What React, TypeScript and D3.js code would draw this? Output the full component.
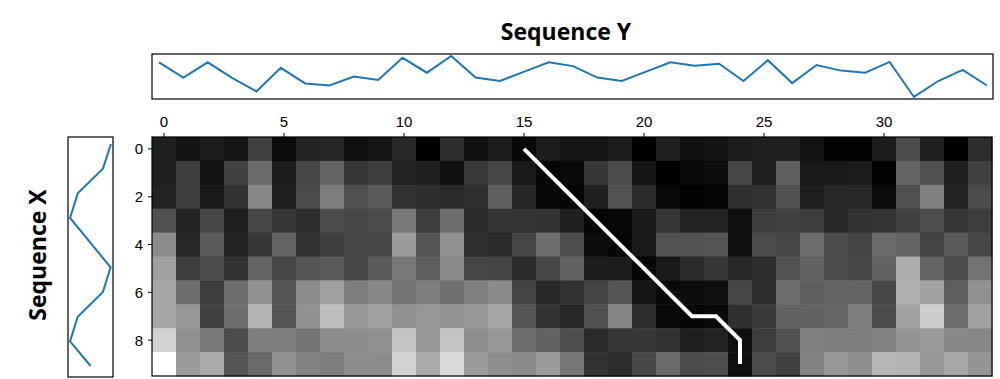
import React from "react";
import * as d3 from "d3";

// Sequence Y (top), 35 values
const seqY = [1.05, 0.61, 1.05, 0.6, 0.21, 0.89, 0.44, 0.38, 0.64, 0.54, 1.18, 0.75, 1.23, 0.61, 0.51, 0.78, 1.05, 0.94, 0.61, 0.51, 0.78, 1.05, 0.95, 1.01, 0.51, 1.11, 0.45, 0.97, 0.81, 0.75, 1.06, 0.05, 0.51, 0.83, 0.38];
// Sequence X (left), 10 values
const seqX = [1.17, 0.94, 0.22, 0.0, 0.58, 1.16, 0.94, 0.22, 0.0, 0.59];

// Cost matrix, one array per column of Y (10 rows of X each)
const costCols: number[][] = [
  [30, 30, 35, 80, 140, 160, 165, 165, 210, 255],
  [20, 60, 60, 35, 40, 60, 110, 150, 145, 155],
  [28, 18, 25, 70, 90, 75, 60, 65, 120, 170],
  [22, 65, 50, 30, 35, 50, 110, 110, 75, 85],
  [65, 105, 135, 70, 55, 100, 145, 180, 125, 105],
  [12, 28, 30, 55, 100, 70, 85, 85, 125, 145],
  [35, 72, 75, 45, 50, 85, 140, 145, 115, 130],
  [38, 100, 125, 75, 60, 90, 160, 190, 140, 125],
  [15, 55, 80, 70, 70, 70, 125, 150, 140, 140],
  [22, 60, 90, 75, 70, 90, 135, 160, 145, 140],
  [40, 35, 50, 120, 155, 120, 115, 145, 195, 210],
  [0, 30, 45, 60, 85, 95, 125, 150, 150, 170],
  [45, 17, 42, 110, 145, 137, 112, 147, 195, 218],
  [16, 57, 47, 42, 47, 70, 128, 152, 142, 155],
  [28, 70, 95, 52, 42, 68, 138, 165, 152, 142],
  [8, 25, 38, 52, 70, 42, 68, 85, 110, 138],
  [28, 5, 8, 50, 110, 72, 40, 50, 98, 155],
  [22, 10, 5, 32, 78, 98, 50, 40, 78, 118],
  [22, 55, 32, 4, 12, 28, 68, 80, 42, 50],
  [28, 75, 82, 8, 5, 28, 85, 132, 55, 45],
  [0, 22, 42, 25, 25, 5, 22, 45, 55, 72],
  [30, 0, 9, 55, 82, 25, 8, 9, 50, 105],
  [16, 10, 3, 35, 82, 42, 12, 5, 30, 75],
  [20, 12, 5, 35, 85, 55, 15, 9, 35, 78],
  [28, 70, 48, 15, 15, 40, 70, 48, 15, 15],
  [32, 30, 50, 62, 75, 45, 45, 58, 60, 75],
  [32, 95, 80, 65, 70, 82, 108, 98, 80, 65],
  [18, 25, 30, 60, 108, 98, 95, 98, 128, 130],
  [3, 25, 40, 40, 75, 75, 100, 102, 125, 150],
  [3, 28, 40, 50, 68, 70, 100, 125, 125, 142],
  [28, 3, 12, 52, 105, 98, 72, 75, 130, 182],
  [75, 100, 80, 65, 100, 172, 175, 162, 148, 180],
  [30, 80, 128, 78, 68, 100, 162, 205, 155, 150],
  [0, 30, 35, 55, 90, 75, 95, 110, 135, 168],
  [45, 65, 75, 60, 70, 115, 145, 162, 135, 148],
];

// Warping path: [column (Y index), row (X index)]
const pathCols = [15, 16, 17, 18, 19, 20, 21, 22, 23, 24, 24];
const pathRows = [0, 1, 2, 3, 4, 5, 6, 7, 7, 8, 9];

const yTicks = [0, 5, 10, 15, 20, 25, 30];
const xTicks = [0, 2, 4, 6, 8];

export default function App() {
  const W = 1000, H = 379;
  const hmL = 152, hmR = 992, hmT = 137, hmB = 376;
  const nC = seqY.length, nR = seqX.length;

  const cx = d3.scaleBand<number>().domain(d3.range(nC)).range([hmL, hmR]).padding(0);
  const cy = d3.scaleBand<number>().domain(d3.range(nR)).range([hmT, hmB]).padding(0);
  const color = d3.scaleLinear<string>().domain([0, 255]).range(["#000000", "#ffffff"]).clamp(true);

  // top plot
  const topL = 152, topR = 993, topT = 54, topB = 99;
  const tx = d3.scaleLinear().domain([0, nC - 1]).range([159, 987]);
  const yExt = d3.extent(seqY) as [number, number];
  const yPad = (yExt[1] - yExt[0]) * 0.05;
  const ty = d3.scaleLinear().domain([yExt[0] - yPad, yExt[1] + yPad]).range([topB, topT]);
  const topLine = d3.line<number>().x((_, i) => tx(i)).y((d) => ty(d))(seqY) || "";

  // left plot
  const lL = 68, lR = 113, lT = 137, lB = 377;
  const xExt = d3.extent(seqX) as [number, number];
  const xPad = (xExt[1] - xExt[0]) * 0.05;
  const lx = d3.scaleLinear().domain([xExt[0] - xPad, xExt[1] + xPad]).range([lL, lR]);
  const ly = d3.scaleLinear().domain([0, nR - 1]).range([144, 366]);
  const leftLine = d3.line<number>().x((d) => lx(d)).y((_, i) => ly(i))(seqX) || "";

  const bw = cx.bandwidth(), bh = cy.bandwidth();
  const pathD = d3.line<number>()
    .x((c) => (cx(c) as number) + bw / 2)
    .y((_, i) => (cy(pathRows[i]) as number) + bh / 2)(pathCols) || "";

  const tickFont = "'Liberation Sans', Arial, sans-serif";
  const titleFont = "'Open Sans', sans-serif";

  return (
    <svg width={W} height={H} style={{ position: "absolute", left: 0, top: 0 }}>
      <rect x={0} y={0} width={W} height={H} fill="#fff" />
      <text x={566} y={40} textAnchor="middle" fontFamily={titleFont} fontWeight="bold" fontSize={23} fill="#000">
        Sequence Y
      </text>
      <text transform={`translate(46,255) rotate(-90)`} textAnchor="middle" fontFamily={titleFont} fontWeight="bold" fontSize={23} fill="#000">
        Sequence X
      </text>

      {/* heatmap */}
      {costCols.map((col, c) =>
        col.map((v, r) => (
          <rect key={`${c}-${r}`} x={cx(c)} y={cy(r)} width={bw + 0.5} height={bh + 0.5} fill={color(v)} />
        ))
      )}
      <path d={pathD} fill="none" stroke="#fff" strokeWidth={4} strokeLinejoin="miter" />
      <rect x={hmL} y={hmT} width={hmR - hmL} height={hmB - hmT} fill="none" stroke="#000" strokeWidth={1.2} />

      {yTicks.map((t) => {
        const x = (cx(t) as number) + bw / 2;
        return (
          <g key={`yt${t}`}>
            <line x1={x} x2={x} y1={hmT} y2={hmT - 4} stroke="#000" strokeWidth={1} />
            <text x={x} y={hmT - 10} textAnchor="middle" fontFamily={tickFont} fontSize={15} fill="#000">{t}</text>
          </g>
        );
      })}
      {xTicks.map((t) => {
        const y = (cy(t) as number) + bh / 2;
        return (
          <g key={`xt${t}`}>
            <line x1={hmL} x2={hmL - 4} y1={y} y2={y} stroke="#000" strokeWidth={1} />
            <text x={hmL - 9} y={y + 5.5} textAnchor="end" fontFamily={tickFont} fontSize={15} fill="#000">{t}</text>
          </g>
        );
      })}

      {/* top plot */}
      <path d={topLine} fill="none" stroke="#1f77b4" strokeWidth={2} />
      <rect x={topL} y={topT} width={topR - topL} height={topB - topT} fill="none" stroke="#000" strokeWidth={1.2} />

      {/* left plot */}
      <path d={leftLine} fill="none" stroke="#1f77b4" strokeWidth={2} />
      <rect x={lL} y={lT} width={lR - lL} height={lB - lT} fill="none" stroke="#000" strokeWidth={1.2} />
    </svg>
  );
}
